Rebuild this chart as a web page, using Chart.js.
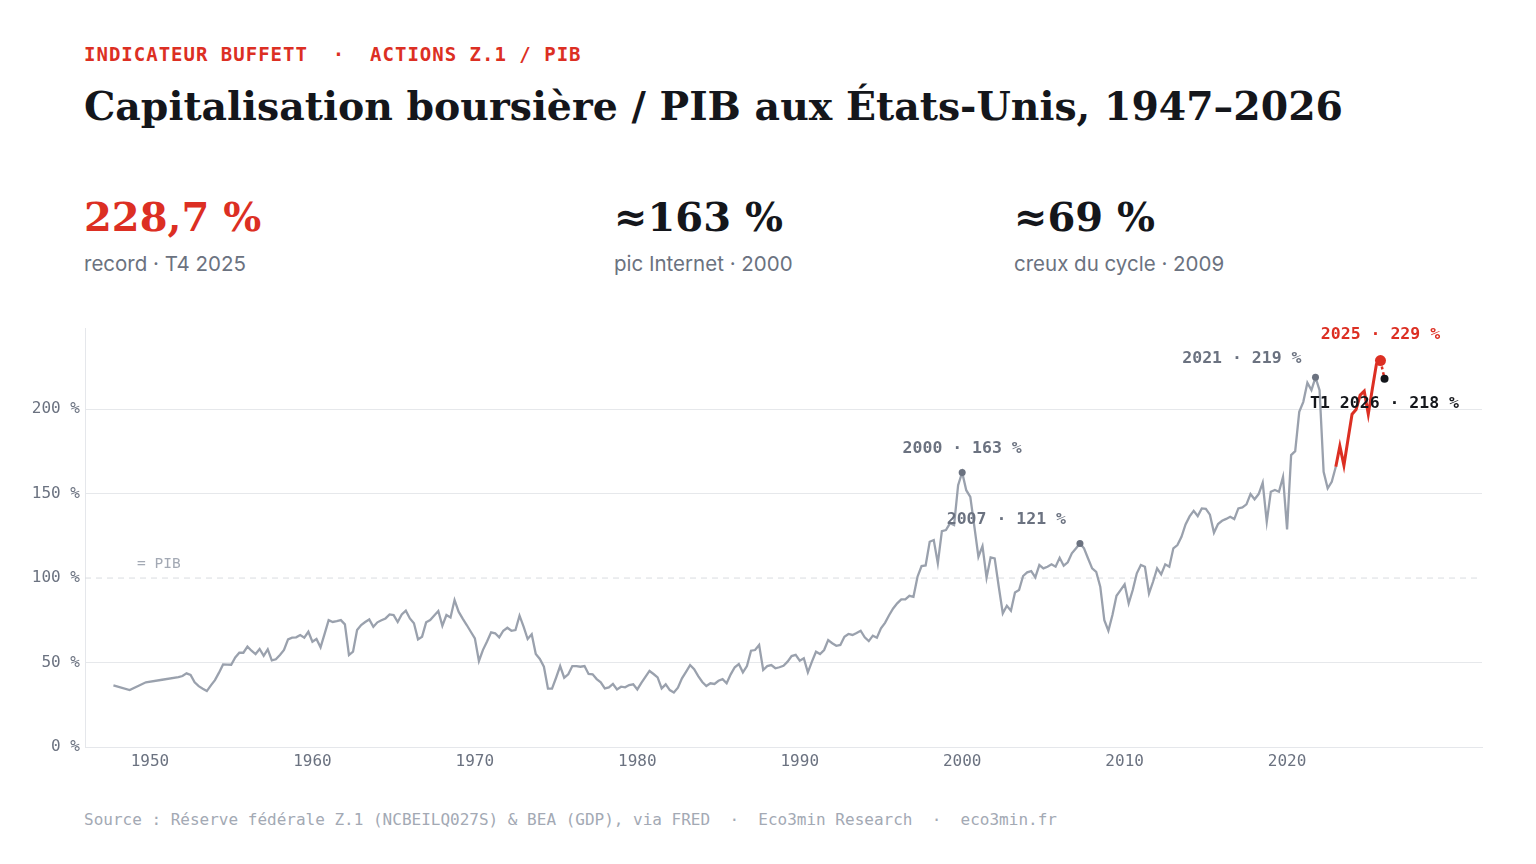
<!DOCTYPE html>
<html lang="fr">
<head>
<meta charset="utf-8">
<title>Indicateur Buffett</title>
<script src="https://cdn.jsdelivr.net/npm/chart.js@4.4.1/dist/chart.umd.min.js"></script>
<style>
  html, body { margin: 0; padding: 0; background: #fff; }
  body { width: 1536px; height: 864px; position: relative; overflow: hidden; }
  .abs { position: absolute; white-space: pre; line-height: 1; }
  .eyebrow { left: 84px; top: 43px; font: bold 19px "DejaVu Sans Mono", monospace; letter-spacing: 1px; color: #dc2f23; }
  .title { left: 84px; top: 83px; font: bold 39.4px "DejaVu Serif", serif; color: #14161b; }
  .kpi { top: 193px; font: bold 40px "DejaVu Serif", serif; color: #14161b; }
  .kpi.red { color: #dc2f23; }
  .kpi-sub { top: 251px; font: 20.5px Inter, sans-serif; color: #6b7280; }
  .source { left: 84px; top: 810px; font: 16px "DejaVu Sans Mono", monospace; color: #a3a9b4; }
  #wrap { position: absolute; left: 20px; top: 318px; width: 1466px; height: 462px; }
</style>
</head>
<body>
<div class="abs eyebrow">INDICATEUR BUFFETT  ·  ACTIONS Z.1 / PIB</div>
<div class="abs title">Capitalisation boursière / PIB aux États-Unis, 1947–2026</div>

<div class="abs kpi red" style="left:84px">228,7 %</div>
<div class="abs kpi-sub" style="left:84px">record · T4 2025</div>
<div class="abs kpi" style="left:614px">≈163 %</div>
<div class="abs kpi-sub" style="left:614px">pic Internet · 2000</div>
<div class="abs kpi" style="left:1014px">≈69 %</div>
<div class="abs kpi-sub" style="left:1014px">creux du cycle · 2009</div>

<div id="wrap"><canvas id="chart"></canvas></div>

<div class="abs source">Source : Réserve fédérale Z.1 (NCBEILQ027S) &amp; BEA (GDP), via FRED  ·  Eco3min Research  ·  eco3min.fr</div>

<script>
// early annual readings (before quarterly data)
const earlyYears = [1947.75, 1948.75, 1949.75, 1950.75, 1951.75];
const earlyRatio = [36.5, 33.7, 38.3, 39.8, 41.3];

// quarterly ratio, % of GDP, from T1 1952 to T1 2023 (one row = one year)
const quarterStart = 1952;
const quarterRatio = [
  42.0, 43.6, 42.6, 38.3,   // 1952
  36.0, 34.5, 33.1, 36.5,   // 1953
  39.6, 44.0, 48.9, 48.8,   // 1954
  48.7, 53.0, 55.8, 55.8,   // 1955
  59.4, 57.0, 55.0, 58.0,   // 1956
  54.0, 57.8, 51.3, 51.9,   // 1957
  54.5, 57.4, 63.7, 64.7,   // 1958
  64.9, 66.3, 64.7, 68.2,   // 1959
  62.3, 63.9, 59.0, 67.0,   // 1960
  75.1, 74.0, 74.5, 75.1,   // 1961
  72.6, 54.4, 56.4, 69.2,   // 1962
  72.2, 74.0, 75.5, 71.2,   // 1963
  73.8, 75.0, 76.1, 78.5,   // 1964
  78.1, 74.0, 78.5, 80.7,   // 1965
  76.1, 73.2, 63.7, 65.3,   // 1966
  73.8, 75.1, 77.8, 80.5,   // 1967
  71.8, 78.1, 76.7, 87.0,   // 1968
  80.1, 76.0, 72.2, 68.2,   // 1969
  64.3, 50.9, 57.5, 62.5,   // 1970
  67.9, 67.3, 64.9, 68.8,   // 1971
  70.6, 68.8, 69.2, 77.7,   // 1972
  71.2, 63.9, 66.7, 55.0,   // 1973
  52.1, 47.5, 34.5, 34.5,   // 1974
  41.0, 47.9, 41.0, 43.0,   // 1975
  47.9, 47.9, 47.5, 47.9,   // 1976
  43.2, 43.0, 40.2, 38.3,   // 1977
  34.7, 35.3, 37.3, 34.1,   // 1978
  35.7, 35.3, 36.7, 37.1,   // 1979
  34.1, 38.0, 41.5, 45.0,   // 1980
  43.2, 41.2, 34.7, 37.1,   // 1981
  33.7, 32.3, 35.1, 40.6,   // 1982
  44.5, 48.5, 46.0, 42.0,   // 1983
  38.5, 36.1, 37.7, 37.3,   // 1984
  39.2, 40.2, 37.7, 43.0,   // 1985
  47.2, 49.1, 44.2, 47.9,   // 1986
  57.0, 57.4, 60.4, 45.6,   // 1987
  47.9, 48.5, 46.6, 47.2,   // 1988
  48.1, 50.5, 53.8, 54.5,   // 1989
  51.1, 52.5, 44.2, 50.5,   // 1990
  56.4, 55.0, 57.4, 63.3,   // 1991
  61.4, 59.9, 60.4, 65.3,   // 1992
  66.9, 66.3, 67.5, 68.8,   // 1993
  64.9, 62.7, 65.9, 64.7,   // 1994
  70.2, 73.5, 78.0, 82.0,   // 1995
  85.0, 87.4, 87.4, 89.5,   // 1996
  88.9, 100.8, 107.1, 107.5, // 1997
  121.5, 122.5, 108.7, 127.8, // 1998
  128.4, 132.4, 131.4, 155.0, // 1999
  162.5, 152.0, 148.0, 130.4, // 2000
  112.6, 118.9, 100.2, 112.2, // 2001
  111.6, 95.0, 79.1, 83.6,  // 2002
  80.7, 91.5, 92.9, 101.2,  // 2003
  103.4, 104.1, 100.4, 107.7, // 2004
  105.7, 106.7, 108.1, 106.7, // 2005
  112.0, 107.3, 109.3, 114.6, // 2006
  117.5, 120.5, 117.6, 111.6, // 2007
  105.7, 103.7, 94.9, 75.1, // 2008
  68.8, 78.1, 89.5, 92.9,   // 2009
  96.3, 85.0, 92.9, 102.8,  // 2010
  107.7, 106.7, 90.9, 97.8, // 2011
  105.7, 102.2, 108.1, 106.7, // 2012
  117.6, 119.5, 124.4, 131.7, // 2013
  136.5, 139.8, 136.7, 141.2, // 2014
  141.0, 137.5, 126.8, 132.0, // 2015
  133.9, 135.0, 136.3, 134.9, // 2016
  141.2, 141.8, 143.6, 149.7, // 2017
  146.6, 149.7, 156.4, 133.3, // 2018
  151.1, 152.1, 151.1, 159.9, // 2019
  128.8, 172.8, 175.1, 198.4, // 2020
  204.3, 215.6, 211.2, 218.8, // 2021
  211.2, 162.9, 153.1, 157.0, // 2022
  165.9                     // 2023 T1
];

// recent stretch highlighted in red, T1 2023 -> T4 2025
const recentStart = 2023;
const recentRatio = [165.9, 178.1, 166.7, 182.0, 197.0, 199.8, 208.3, 210.7, 197.0, 212.0, 226.6, 228.7];

// T1 2026 estimate
const nowcastYears = [2025.75, 2026];
const nowcastRatio = [228.7, 218.0];

// annotated points
const markYears  = [2000, 2007.25, 2021.75, 2025.75, 2026];
const markValues = [162.5, 120.5, 218.8, 228.7, 218.0];
const markLabels = ['2000 · 163 %', '2007 · 121 %', '2021 · 219 %', '2025 · 229 %', 'T1 2026 · 218 %'];

const gdpLevel = 100;
const xTickValues = [1950, 1960, 1970, 1980, 1990, 2000, 2010, 2020];
const yTickValues = [0, 50, 100, 150, 200];

const RED = '#dc2f23', GRAY = '#9aa1ad', DOT = '#6b7280', INK = '#14161b';

const histPoints = earlyYears.map((yr, i) => ({ x: yr, y: earlyRatio[i] }))
  .concat(quarterRatio.map((v, i) => ({ x: quarterStart + i / 4, y: v })));
const recentPoints = recentRatio.map((v, i) => ({ x: recentStart + i / 4, y: v }));
const nowcastPoints = nowcastYears.map((yr, i) => ({ x: yr, y: nowcastRatio[i] }));
const markPoints = markYears.map((yr, i) => ({ x: yr, y: markValues[i] }));

const labelStyle = [
  { align: 'center', dx: 0, dy: -24, color: DOT },
  { align: 'right', dx: -14, dy: -24, color: DOT },
  { align: 'right', dx: -14, dy: -19, color: DOT },
  { align: 'center', dx: 0, dy: -26, color: RED },
  { align: 'center', dx: 0, dy: 25, color: INK }
];

const overlay = {
  id: 'overlay',
  beforeDatasetsDraw(chart) {
    const { ctx, chartArea, scales } = chart;
    const py = scales.y.getPixelForValue(gdpLevel);
    ctx.save();
    ctx.strokeStyle = '#d9dce1';
    ctx.lineWidth = 1;
    ctx.setLineDash([6, 5]);
    ctx.beginPath();
    ctx.moveTo(chartArea.left, py);
    ctx.lineTo(chartArea.right, py);
    ctx.stroke();
    ctx.setLineDash([]);
    ctx.fillStyle = '#a3a9b4';
    ctx.font = '14.5px "DejaVu Sans Mono"';
    ctx.textAlign = 'left';
    ctx.textBaseline = 'middle';
    ctx.fillText('= PIB', chartArea.left + 52, py - 14);
    ctx.restore();
  },
  afterDatasetsDraw(chart) {
    const { ctx, scales } = chart;
    ctx.save();
    ctx.font = 'bold 16.5px "DejaVu Sans Mono"';
    ctx.textBaseline = 'middle';
    markLabels.forEach((t, i) => {
      const s = labelStyle[i];
      const px = scales.x.getPixelForValue(markYears[i]);
      const py = scales.y.getPixelForValue(markValues[i]);
      ctx.fillStyle = s.color;
      ctx.textAlign = s.align;
      ctx.fillText(t, px + s.dx, py + s.dy);
    });
    ctx.restore();
  }
};

Chart.defaults.font.family = '"DejaVu Sans Mono", monospace';
Chart.defaults.color = '#6b7280';

new Chart(document.getElementById('chart'), {
  type: 'line',
  data: {
    datasets: [
      {
        label: 'repères',
        data: markPoints,
        showLine: false,
        pointRadius: [3.5, 3.5, 3.5, 5.5, 4],
        pointBackgroundColor: [DOT, DOT, DOT, RED, INK],
        pointBorderWidth: 0,
        order: 0
      },
      {
        label: 'récent',
        data: recentPoints,
        borderColor: RED,
        borderWidth: 3,
        pointRadius: 0,
        tension: 0,
        order: 1
      },
      {
        label: 'T1 2026',
        data: nowcastPoints,
        borderColor: RED,
        borderWidth: 2.5,
        borderDash: [3, 3],
        pointRadius: 0,
        order: 2
      },
      {
        label: 'historique',
        data: histPoints,
        borderColor: GRAY,
        borderWidth: 2.3,
        pointRadius: 0,
        tension: 0,
        order: 3
      }
    ]
  },
  options: {
    responsive: true,
    maintainAspectRatio: false,
    animation: false,
    layout: { padding: { top: 10, right: 0, left: 0, bottom: 0 } },
    plugins: { legend: { display: false }, tooltip: { enabled: false } },
    scales: {
      x: {
        type: 'linear',
        min: 1946,
        max: 2032,
        afterBuildTicks: s => { s.ticks = xTickValues.map(v => ({ value: v })); },
        afterFit: s => { s.height = 33; s.paddingLeft = 0; s.paddingRight = 0; },
        grid: { display: false, drawTicks: false },
        border: { display: true, color: '#e5e7eb' },
        ticks: {
          padding: 5,
          font: { size: 16 },
          color: '#6b7280',
          autoSkip: false,
          maxRotation: 0,
          callback: v => String(v)
        }
      },
      y: {
        min: 0,
        max: 248,
        afterBuildTicks: s => { s.ticks = yTickValues.map(v => ({ value: v })); },
        afterFit: s => { s.width = 65; s.paddingTop = 0; s.paddingBottom = 0; },
        grid: {
          drawTicks: false,
          color: c => (c.tick && c.tick.value === gdpLevel) ? 'rgba(0,0,0,0)' : '#e6e8eb'
        },
        border: { display: true, color: '#e5e7eb' },
        ticks: {
          padding: 5,
          font: { size: 16 },
          color: '#6b7280',
          callback: v => v + ' %'
        }
      }
    }
  },
  plugins: [overlay]
});
</script>
</body>
</html>
